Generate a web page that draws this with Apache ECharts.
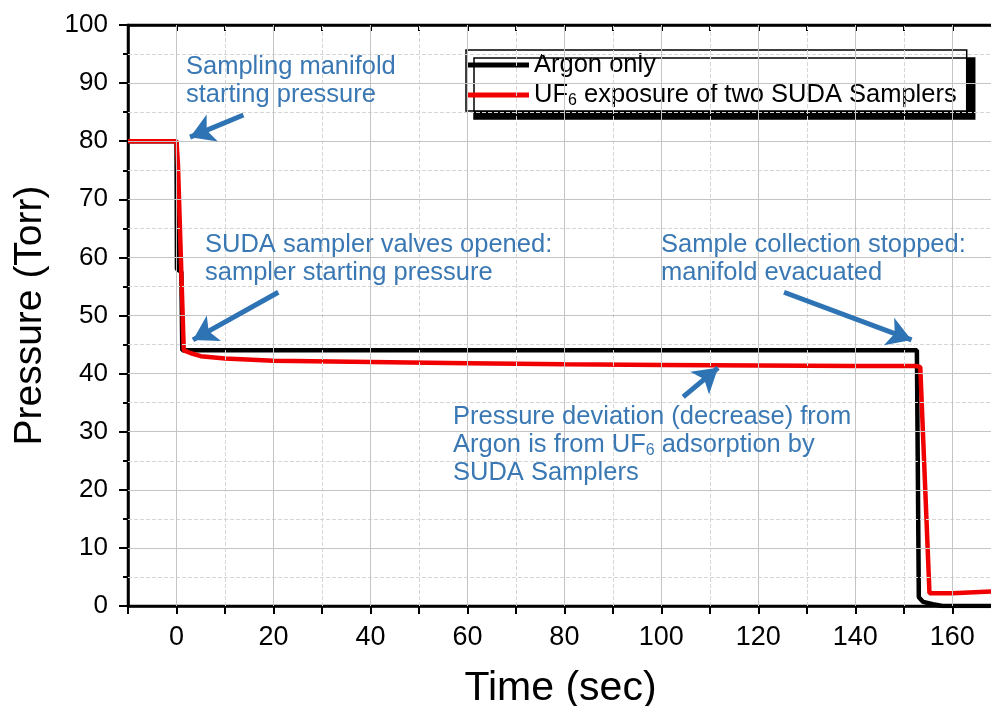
<!DOCTYPE html>
<html>
<head>
<meta charset="utf-8">
<script src="https://cdn.jsdelivr.net/npm/echarts@6/dist/echarts.min.js"></script>
<style>
  html, body { margin: 0; padding: 0; background: #fff; }
  #chart { width: 991px; height: 706px; }
</style>
</head>
<body>
<div id="chart"></div>
<script>
// Argon only (black)
var argonData = [
  [-10, 80], [0, 80], [0.1, 58], [1.0, 57.5], [1.2, 44], [152.7, 44],
  [153.1, 1.5], [154, 0.7], [156, 0.3], [158, 0], [168.4, 0]
];
// UF6 exposure (red)
var uf6Data = [
  [-10, 80], [0, 80], [0.3, 76], [1.5, 44], [3, 43.5], [5, 43], [10, 42.6],
  [20, 42.2], [40, 42], [60, 41.8], [80, 41.6], [100, 41.5], [120, 41.4],
  [140, 41.3], [152.7, 41.3], [153.4, 41.1], [155.3, 2.2], [160, 2.2], [168.4, 2.5]
];
// grid line positions
var majorX = [0, 20, 40, 60, 80, 100, 120, 140, 160];
var minorX = [10, 30, 50, 70, 90, 110, 130, 150];
var majorY = [10, 20, 30, 40, 50, 60, 70, 80, 90];
var minorY = [5, 15, 25, 35, 45, 55, 65, 75, 85, 95];

// annotation arrows, [from, to] in data coordinates
var arrows = [
  [[13.8, 84.5], [2.8, 80.7]],
  [[21.0, 54.0], [3.4, 45.8]],
  [[125.3, 54.0], [151.6, 45.8]],
  [[104.5, 36.0], [111.7, 41.0]]
];

var blue = '#3a78b4';
var font = '"Liberation Sans", Arial, sans-serif';

var chart = echarts.init(document.getElementById('chart'));

function xAxisBase(pos) {
  return {
    type: 'value', position: pos,
    min: -10, max: 168.4, interval: 10,
    axisLine: { show: true, onZero: false, lineStyle: { color: '#000', width: 2.5 } },
    axisTick: { show: true, inside: pos === 'top', length: pos === 'top' ? 6 : 8, lineStyle: { color: '#000', width: 2 } },
    splitLine: { show: false }
  };
}

var xBottom = xAxisBase('bottom');
xBottom.axisLabel = {
  color: '#000', fontSize: 27, fontFamily: font, margin: 18,
  formatter: function (v) { return v % 20 === 0 ? String(v) : ''; }
};
xBottom.name = 'Time (sec)';
xBottom.nameLocation = 'middle';
xBottom.nameGap = 62;
xBottom.nameTextStyle = { color: '#000', fontSize: 41, fontFamily: font };

var xTop = xAxisBase('top');
xTop.axisLabel = { show: false };

var sub = { fontSize: 16, fontFamily: font, verticalAlign: 'bottom', padding: [12, 0, 0, 0] };

var annotations = [
  { left: 186, top: 53, text: 'Sampling manifold\nstarting pressure' },
  { left: 205, top: 231, text: 'SUDA sampler valves opened:\nsampler starting pressure' },
  { left: 661, top: 231, text: 'Sample collection stopped:\nmanifold evacuated' },
  { left: 453, top: 403, text: 'Pressure deviation (decrease) from\nArgon is from UF{sub|6} adsorption by\nSUDA Samplers' }
];

function gridLines(name, xs, ys, style) {
  var d = xs.map(function (v) { return { xAxis: v }; })
    .concat(ys.map(function (v) { return { yAxis: v }; }));
  return {
    name: name, type: 'line', data: [], silent: true, z: 1,
    markLine: {
      silent: true, symbol: 'none', animation: false,
      label: { show: false }, lineStyle: style, data: d
    }
  };
}

chart.setOption({
  animation: false,
  backgroundColor: '#fff',
  grid: {
    left: 128, right: -2, top: 25, bottom: 100,
    containLabel: false, outerBoundsMode: 'none',
    show: true, borderColor: '#000', borderWidth: 2.5, backgroundColor: 'transparent'
  },
  legend: {
    orient: 'vertical',
    left: 466, top: 50,
    itemWidth: 62, itemHeight: 5, itemGap: 4,
    padding: [2, 10, 2, 1],
    icon: 'rect',
    data: ['Argon only', 'UF6'],
    backgroundColor: '#fff',
    borderColor: '#000', borderWidth: 1.5,
    shadowColor: '#000', shadowBlur: 0, shadowOffsetX: 8, shadowOffsetY: 8,
    textStyle: { color: '#000', fontSize: 25.5, fontFamily: font, rich: { sub: sub } },
    formatter: function (n) {
      return n === 'UF6' ? 'UF{sub|6} exposure of two SUDA Samplers' : n;
    }
  },
  xAxis: [xBottom, xTop],
  yAxis: {
    type: 'value', position: 'left', min: 0, max: 100, interval: 10,
    axisLine: { show: true, onZero: false, lineStyle: { color: '#000', width: 2.5 } },
    axisTick: { show: true, length: 9, lineStyle: { color: '#000', width: 2 } },
    minorTick: { show: true, splitNumber: 2, length: 5, lineStyle: { color: '#000', width: 2 } },
    axisLabel: { color: '#000', fontSize: 26, fontFamily: font, margin: 20 },
    splitLine: { show: false },
    minorSplitLine: { show: false },
    name: 'Pressure (Torr)',
    nameLocation: 'middle',
    nameGap: 78,
    nameTextStyle: { color: '#000', fontSize: 39, fontFamily: font }
  },
  graphic: annotations.map(function (a) {
    return {
      type: 'text', left: a.left, top: a.top, z: 100,
      style: {
        text: a.text, fill: blue, fontSize: 25.5, fontFamily: font, lineHeight: 28,
        rich: { sub: { fill: blue, fontSize: 16, fontFamily: font, verticalAlign: 'bottom', padding: [12, 0, 0, 0] } }
      }
    };
  }),
  series: [
    gridLines('minorGrid', minorX, minorY, { color: '#d6d6d6', type: 'dashed', width: 1 }),
    gridLines('majorGrid', majorX, majorY, { color: '#c4c4c4', type: 'solid', width: 1 }),
    {
      name: 'Argon only', type: 'line', data: argonData, symbol: 'none', z: 3,
      lineStyle: { color: '#000', width: 4.5 }, itemStyle: { color: '#000' }
    },
    {
      name: 'UF6', type: 'line', data: uf6Data, symbol: 'none', z: 4,
      lineStyle: { color: '#f00000', width: 4.5 }, itemStyle: { color: '#f00000' }
    },
    {
      name: 'arrows', type: 'line', data: [], silent: true, z: 5,
      markLine: {
        silent: true, animation: false,
        symbol: ['none', 'arrow'], symbolSize: [22, 24],
        label: { show: false },
        lineStyle: { color: '#2e74b5', type: 'solid', width: 5 },
        data: arrows.map(function (a) { return [{ coord: a[0] }, { coord: a[1] }]; })
      }
    }
  ]
});
</script>
</body>
</html>
